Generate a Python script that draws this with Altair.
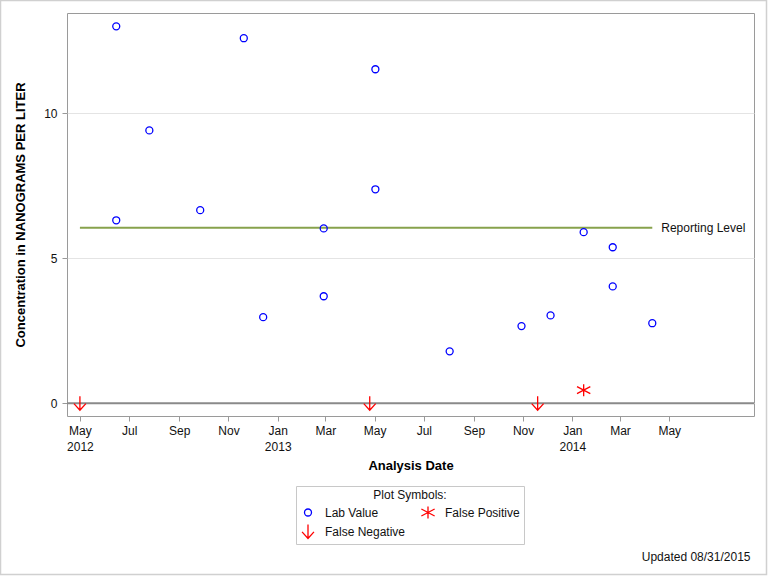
import altair as alt
import pandas as pd

# ---- data ----
lab_dates = ["2012-06-15", "2012-06-15", "2012-07-26", "2012-09-27", "2012-11-20",
             "2012-12-14", "2013-02-27", "2013-02-27", "2013-05-02", "2013-05-02",
             "2013-08-02", "2013-10-30", "2013-12-05", "2014-01-15", "2014-02-20",
             "2014-02-20", "2014-04-10"]
lab_values = [13.0, 6.31, 9.41, 6.66, 12.59,
              2.97, 6.03, 3.69, 11.52, 7.38,
              1.79, 2.66, 3.03, 5.90, 5.38,
              4.03, 2.76]
fp_dates = ["2014-01-15"]
fp_values = [0.45]
fn_dates = ["2012-05-01", "2013-04-25", "2013-11-19"]
fn_values = [0.0, 0.0, 0.0]

reporting_level = 6.05
rl_start = "2012-05-01"
rl_end = "2014-04-10"

types = ["Lab Value", "False Positive", "False Negative"]

tick_months = [(2012, 5), (2012, 7), (2012, 9), (2012, 11), (2013, 1), (2013, 3),
               (2013, 5), (2013, 7), (2013, 9), (2013, 11), (2014, 1), (2014, 3),
               (2014, 5)]
y_ticks = [0, 5, 10]

# ---- tables ----
pts = pd.DataFrame({
    "date": lab_dates + fp_dates + fn_dates,
    "value": lab_values + fp_values + fn_values,
    "type": ["Lab Value"] * len(lab_dates) + ["False Positive"] * len(fp_dates)
            + ["False Negative"] * len(fn_dates),
})
rl = pd.DataFrame({"start": [rl_start], "end": [rl_end], "level": [reporting_level],
                   "label": ["Reporting Level"]})
one = pd.DataFrame({"a": [0]})

FONT = "Liberation Sans"
circle_path = "M0.5,0A0.5,0.5,0,1,1,-0.5,0A0.5,0.5,0,1,1,0.5,0Z"
star_path = "M0,-0.85L0,0.85M-0.95,-0.5L0.95,0.5M-0.95,0.5L0.95,-0.5"
arrow_path = "M0,-1L0,1M-0.85,0.05L0,1L0.85,0.05"

x_scale = alt.Scale(type="utc",
                    domain=[alt.DateTime(year=2012, month=4, date=15, utc=True),
                            alt.DateTime(year=2014, month=8, date=14, utc=True)])
y_scale = alt.Scale(domain=[-0.44, 13.46], nice=False, zero=False)

x_axis = alt.Axis(
    title="Analysis Date",
    values=[alt.DateTime(year=y, month=m, date=1, utc=True) for y, m in tick_months],
    labelExpr="utcFormat(datum.value, '%m') == '01' || utcFormat(datum.value, '%Y-%m') == '2012-05'"
              " ? [utcFormat(datum.value, '%b'), utcFormat(datum.value, '%Y')]"
              " : utcFormat(datum.value, '%b')",
    labelFlush=False, labelPadding=4, labelLineHeight=16,
    grid=False, domain=False, tickColor="#999999", tickSize=5,
    titlePadding=7,
)
y_axis = alt.Axis(
    title="Concentration in NANOGRAMS PER LITER",
    values=y_ticks, grid=True, gridColor="#e4e4e4", domain=False,
    tickColor="#999999", tickSize=5, labelPadding=5,
    titleX=-40, titleY=201.5, titleAngle=270, titleBaseline="bottom", titleAlign="center",
)

border = alt.Chart(one).mark_rect(fill=None, stroke="#d0d0d0", strokeWidth=1.5).encode(
    x=alt.value(-66.5), x2=alt.value(699.5), y=alt.value(-12.5), y2=alt.value(561.5)
)

zero_line = alt.Chart(one).mark_rule(color="#8a8a8a", strokeWidth=2).encode(
    y=alt.Y(datum=0, type="quantitative", scale=y_scale, axis=y_axis)
)

rl_rule = alt.Chart(rl).mark_rule(color="#87a24c", strokeWidth=2).encode(
    x=alt.X("start:T", scale=x_scale, axis=x_axis),
    x2="end:T",
    y=alt.Y("level:Q", scale=y_scale, axis=y_axis),
)
rl_text = alt.Chart(rl).mark_text(align="left", baseline="middle", dx=9, fontSize=12,
                                  font=FONT, color="#111111").encode(
    x=alt.X("end:T", scale=x_scale, axis=x_axis),
    y=alt.Y("level:Q", scale=y_scale, axis=y_axis),
    text="label:N",
)

points = alt.Chart(pts).mark_point(filled=False, size=196, strokeWidth=1.3, opacity=1).encode(
    x=alt.X("date:T", scale=x_scale, axis=x_axis),
    y=alt.Y("value:Q", scale=y_scale, axis=y_axis),
    shape=alt.Shape("type:N", scale=alt.Scale(domain=types,
                                              range=[circle_path, star_path, arrow_path]),
                    legend=alt.Legend(title="Plot Symbols:")),
    color=alt.Color("type:N", scale=alt.Scale(domain=types,
                                              range=["#0000ff", "#ff0000", "#ff0000"]),
                    legend=alt.Legend(title="Plot Symbols:")),
)

footer = alt.Chart(one).mark_text(align="right", baseline="alphabetic", fontSize=12,
                                  font=FONT, color="#111111").encode(
    x=alt.value(683.5), y=alt.value(547.7), text=alt.value("Updated 08/31/2015")
)

chart = alt.layer(border, zero_line, rl_rule, rl_text, points, footer).properties(
    width=687, height=403,
    padding={"left": 67, "top": 13, "right": 14, "bottom": 160},
    autosize=alt.AutoSizeParams(type="none"),
).configure(
    font=FONT, background="white",
).configure_view(
    stroke="#9a9a9a", strokeWidth=1,
).configure_axis(
    labelFont=FONT, labelFontSize=12, labelColor="#111111",
    titleFont=FONT, titleFontSize=13, titleFontWeight="bold", titleColor="#000000",
).configure_legend(
    orient="none", legendX=229, legendY=473, direction="horizontal",
    strokeColor="#c8c8c8", padding=4, fillColor="white",
    titleFont=FONT, titleFontSize=12, titleFontWeight="normal", titleColor="#111111",
    titleAnchor="middle", titlePadding=2,
    labelFont=FONT, labelFontSize=12, labelColor="#111111", labelOffset=9,
    columns=2, columnPadding=14, rowPadding=2, clipHeight=17,
    symbolSize=196, symbolStrokeWidth=1.3,
)

chart.save("out.html", embed_options={"renderer": "svg", "actions": False})
